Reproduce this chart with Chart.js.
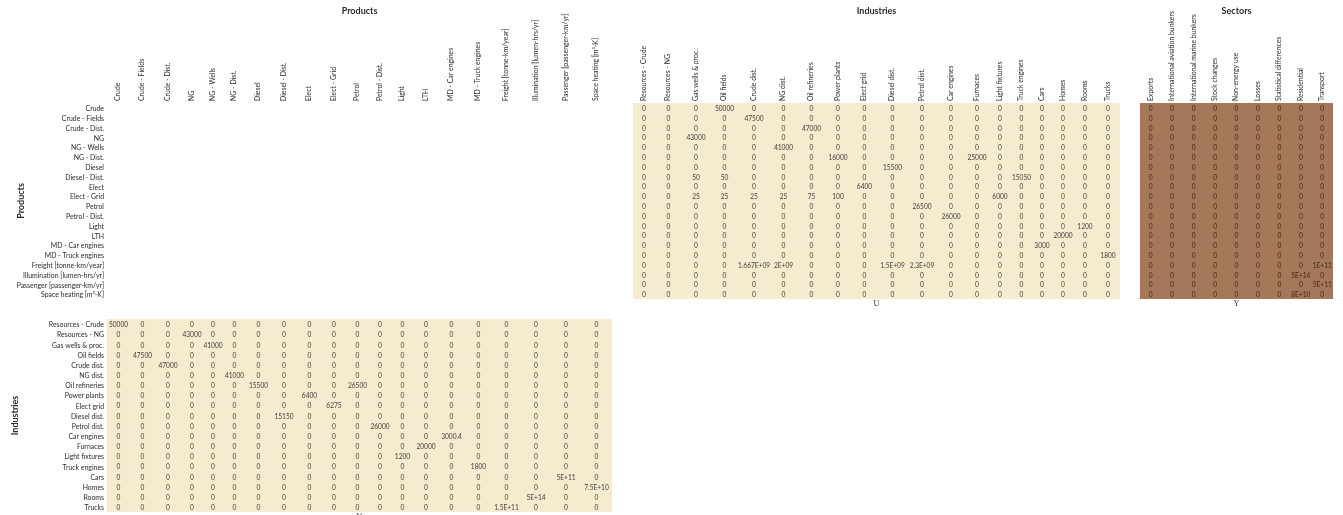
<!DOCTYPE html>
<html>
<head>
<meta charset="utf-8">
<title>PSUT matrices</title>
<script src="https://cdn.jsdelivr.net/npm/chart.js@4.4.1/dist/chart.umd.min.js"></script>
<style>
  html, body { margin: 0; padding: 0; background: #fff; }
  #sheet { position: relative; width: 1343px; height: 515px; overflow: hidden; }
  #sheet canvas { position: absolute; }
</style>
</head>
<body>
<div id="sheet">
  <canvas id="prodChart" width="612" height="299" style="left:0;top:0"></canvas>
  <canvas id="uChart" width="487" height="312" style="left:633px;top:0"></canvas>
  <canvas id="yChart" width="193" height="312" style="left:1140px;top:0"></canvas>
  <canvas id="vChart" width="612" height="215" style="left:0;top:300px"></canvas>
</div>
<script>
const products = [
  'Crude', 'Crude - Fields', 'Crude - Dist.', 'NG', 'NG - Wells', 'NG - Dist.',
  'Diesel', 'Diesel - Dist.', 'Elect', 'Elect - Grid', 'Petrol', 'Petrol - Dist.',
  'Light', 'LTH', 'MD - Car engines', 'MD - Truck engines',
  'Freight [tonne-km/year]', 'Illumination [lumen-hrs/yr]',
  'Passenger [passenger-km/yr]', 'Space heating [m³-K]',
];
const industries = [
  'Resources - Crude', 'Resources - NG', 'Gas wells & proc.', 'Oil fields',
  'Crude dist.', 'NG dist.', 'Oil refineries', 'Power plants', 'Elect grid',
  'Diesel dist.', 'Petrol dist.', 'Car engines', 'Furnaces', 'Light fixtures',
  'Truck engines', 'Cars', 'Homes', 'Rooms', 'Trucks',
];
const sectors = [
  'Exports', 'International aviation bunkers', 'International marine bunkers',
  'Stock changes', 'Non-energy use', 'Losses', 'Statistical differences',
  'Residential', 'Transport',
];

// only the non-zero cells; every other cell of a matrix is 0
// U: [product, industry, value]
const uFlows = [
  ['Crude', 'Oil fields', 50000],
  ['Crude - Fields', 'Crude dist.', 47500],
  ['Crude - Dist.', 'Oil refineries', 47000],
  ['NG', 'Gas wells & proc.', 43000],
  ['NG - Wells', 'NG dist.', 41000],
  ['NG - Dist.', 'Power plants', 16000],
  ['NG - Dist.', 'Furnaces', 25000],
  ['Diesel', 'Diesel dist.', 15500],
  ['Diesel - Dist.', 'Gas wells & proc.', 50],
  ['Diesel - Dist.', 'Oil fields', 50],
  ['Diesel - Dist.', 'Truck engines', 15050],
  ['Elect', 'Elect grid', 6400],
  ['Elect - Grid', 'Gas wells & proc.', 25],
  ['Elect - Grid', 'Oil fields', 25],
  ['Elect - Grid', 'Crude dist.', 25],
  ['Elect - Grid', 'NG dist.', 25],
  ['Elect - Grid', 'Oil refineries', 75],
  ['Elect - Grid', 'Power plants', 100],
  ['Elect - Grid', 'Light fixtures', 6000],
  ['Petrol', 'Petrol dist.', 26500],
  ['Petrol - Dist.', 'Car engines', 26000],
  ['Light', 'Rooms', 1200],
  ['LTH', 'Homes', 20000],
  ['MD - Car engines', 'Cars', 3000],
  ['MD - Truck engines', 'Trucks', 1800],
  ['Freight [tonne-km/year]', 'Crude dist.', 1.667e9],
  ['Freight [tonne-km/year]', 'NG dist.', 2e9],
  ['Freight [tonne-km/year]', 'Diesel dist.', 1.5e9],
  ['Freight [tonne-km/year]', 'Petrol dist.', 2.3e9],
];
// V: [industry, product, value]
const vFlows = [
  ['Resources - Crude', 'Crude', 50000],
  ['Resources - NG', 'NG', 43000],
  ['Gas wells & proc.', 'NG - Wells', 41000],
  ['Oil fields', 'Crude - Fields', 47500],
  ['Crude dist.', 'Crude - Dist.', 47000],
  ['NG dist.', 'NG - Dist.', 41000],
  ['Oil refineries', 'Diesel', 15500],
  ['Oil refineries', 'Petrol', 26500],
  ['Power plants', 'Elect', 6400],
  ['Elect grid', 'Elect - Grid', 6275],
  ['Diesel dist.', 'Diesel - Dist.', 15150],
  ['Petrol dist.', 'Petrol - Dist.', 26000],
  ['Car engines', 'MD - Car engines', 3000.4],
  ['Furnaces', 'LTH', 20000],
  ['Light fixtures', 'Light', 1200],
  ['Truck engines', 'MD - Truck engines', 1800],
  ['Cars', 'Passenger [passenger-km/yr]', 5e11],
  ['Homes', 'Space heating [m³-K]', 7.5e10],
  ['Rooms', 'Illumination [lumen-hrs/yr]', 5e14],
  ['Trucks', 'Freight [tonne-km/year]', 1.5e11],
];
// Y: [product, sector, value]
const yFlows = [
  ['Freight [tonne-km/year]', 'Transport', 1e11],
  ['Illumination [lumen-hrs/yr]', 'Residential', 5e14],
  ['Passenger [passenger-km/yr]', 'Transport', 5e11],
  ['Space heating [m³-K]', 'Residential', 8e10],
];

// spreadsheet column widths (px)
const productCols = [23, 25, 26, 22, 20, 23, 25, 26, 25, 24, 23, 22, 23, 24, 27, 27, 29, 30, 30, 31];
const industryCols = [22, 27, 28, 29, 30, 29, 27, 26, 27, 29, 30, 28, 24, 22, 21, 20, 22, 22, 24];
const sectorCols = sectors.map(() => 193 / sectors.length);

const HEAD_H = 103;
const LABEL_W = 107;
const FONT = 'Lato, "Liberation Sans", sans-serif';
const SMALL = { family: FONT, size: 6.6 };
const LABEL = { family: FONT, size: 6.9 };
const TEXT = '#2b2b2b';

Chart.defaults.font.family = FONT;
Chart.defaults.color = TEXT;

function fmt(v) {
  if (v !== 0 && Math.abs(v) >= 1e8) {
    const parts = v.toExponential().split('e');
    const mant = parseFloat(parseFloat(parts[0]).toPrecision(4)).toString();
    const exp = parseInt(parts[1], 10);
    return mant + 'E' + (exp < 0 ? '-' : '+') + String(Math.abs(exp)).padStart(2, '0');
  }
  return String(v);
}

function colCenters(widths) {
  let acc = 0;
  return widths.map(w => {
    const c = acc + w / 2;
    acc += w;
    return c;
  });
}

function cells(rows, cols, widths, flows) {
  const centers = colCenters(widths);
  const pts = [];
  rows.forEach(r => {
    cols.forEach((c, j) => {
      const hit = flows.find(f => f[0] === r && f[1] === c);
      pts.push({ x: centers[j], y: r, v: hit ? hit[2] : 0 });
    });
  });
  return pts;
}

function colAxis(labels, widths, show) {
  const centers = colCenters(widths);
  const axis = {
    type: 'linear',
    position: 'top',
    display: show,
    min: 0,
    max: widths.reduce((a, b) => a + b, 0),
    grid: { display: false, drawTicks: false },
    border: { display: false },
    afterBuildTicks: s => { s.ticks = centers.map(c => ({ value: c })); },
    ticks: {
      font: LABEL, color: TEXT, padding: 2, autoSkip: false,
      minRotation: 90, maxRotation: 90, labelOffset: 8,
      callback: (v, i) => labels[i],
    },
  };
  if (show) {
    axis.afterFit = s => {
      s.height = HEAD_H;
      s.paddingLeft = 0;
      s.paddingRight = 0;
    };
  }
  return axis;
}

function rowAxis(labels, show, title, titlePad) {
  const axis = {
    type: 'category',
    labels: labels,
    offset: true,
    position: 'left',
    display: show,
    grid: { display: false, drawTicks: false },
    border: { display: false },
    ticks: { font: LABEL, color: TEXT, padding: 3, labelOffset: 1, autoSkip: false },
    title: {
      display: !!title,
      text: title || '',
      color: TEXT,
      font: { family: FONT, size: 9, weight: 'bold' },
      padding: { top: titlePad || 0, bottom: 0 },
    },
  };
  if (show) {
    axis.afterFit = s => {
      s.width = LABEL_W;
      s.paddingTop = 0;
      s.paddingBottom = 0;
    };
  }
  return axis;
}

// block background, cell values, block heading and matrix letter
const blockFrame = {
  id: 'blockFrame',
  beforeDraw(chart, args, opts) {
    if (!opts.background) return;
    const { ctx, chartArea: a } = chart;
    ctx.save();
    ctx.fillStyle = opts.background;
    ctx.fillRect(a.left, a.top, a.right - a.left, a.bottom - a.top);
    ctx.restore();
  },
  afterDatasetsDraw(chart, args, opts) {
    if (!chart.data.datasets.length) return;
    const ctx = chart.ctx;
    const raw = chart.data.datasets[0].data;
    ctx.save();
    ctx.font = SMALL.size + 'px ' + FONT;
    ctx.fillStyle = opts.ink;
    ctx.textAlign = 'center';
    ctx.textBaseline = 'middle';
    chart.getDatasetMeta(0).data.forEach((p, k) => {
      ctx.fillText(fmt(raw[k].v), p.x, p.y + 1);
    });
    ctx.restore();
  },
  afterDraw(chart, args, opts) {
    const { ctx, chartArea: a } = chart;
    const cx = (a.left + a.right) / 2;
    ctx.save();
    ctx.fillStyle = TEXT;
    ctx.textAlign = 'center';
    if (opts.heading) {
      ctx.font = 'bold 9px ' + FONT;
      ctx.textBaseline = 'middle';
      ctx.fillText(opts.heading, cx, 11.5);
    }
    if (opts.letter) {
      ctx.font = '8px "Liberation Serif", serif';
      ctx.textBaseline = 'top';
      ctx.fillText(opts.letter, cx, a.bottom + 0.5);
    }
    ctx.restore();
  },
};

function matrixChart(id, rows, cols, widths, flows, look, padding) {
  return new Chart(document.getElementById(id), {
    type: 'scatter',
    data: {
      datasets: flows ? [{ data: cells(rows, cols, widths, flows), pointRadius: 0 }] : [],
    },
    options: {
      responsive: false,
      animation: false,
      events: [],
      layout: { padding: padding || 0 },
      plugins: {
        legend: { display: false },
        tooltip: { enabled: false },
        blockFrame: look,
      },
      scales: {
        x: colAxis(cols, widths, look.colHeads),
        y: rowAxis(rows, look.rowHeads, look.rowTitle, look.rowTitlePad),
      },
    },
    plugins: [blockFrame],
  });
}

matrixChart('prodChart', products, products, productCols, null, {
  heading: 'Products', colHeads: true, rowHeads: true, rowTitle: 'Products', rowTitlePad: 16,
});

matrixChart('uChart', products, industries, industryCols, uFlows, {
  background: '#F7EBCF', ink: '#404040', heading: 'Industries', letter: 'U',
  colHeads: true, rowHeads: false,
}, { bottom: 13 });

matrixChart('yChart', products, sectors, sectorCols, yFlows, {
  background: '#A5785A', ink: '#3d2a1a', heading: 'Sectors', letter: 'Y',
  colHeads: true, rowHeads: false,
}, { bottom: 13 });

matrixChart('vChart', industries, products, productCols, vFlows, {
  background: '#F7EBCF', ink: '#404040', letter: 'V',
  colHeads: false, rowHeads: true, rowTitle: 'Industries', rowTitlePad: 10,
}, { top: 19, bottom: 3 });
</script>
</body>
</html>
